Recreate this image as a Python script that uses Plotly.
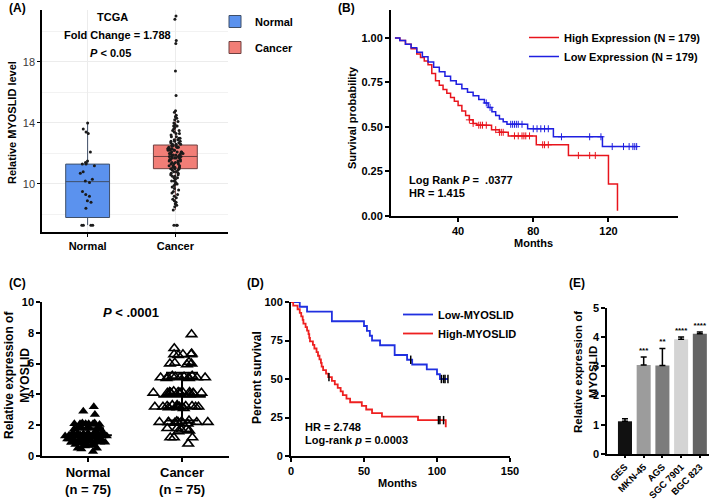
import numpy as np
import plotly.graph_objects as go

W, H = 709, 502
FONT = "Liberation Sans"

# ---------------- Panel A data (TCGA box plot) ----------------
a_groups = ["Normal", "Cancer"]
a_q1 = [7.8, 11.0]
a_median = [10.15, 11.8]
a_q3 = [11.3, 12.55]
a_lower = [7.3, 8.3]
a_upper = [14.0, 14.8]
a_normal_pts = [14.0, 13.6, 13.4, 13.3, 12.1, 11.5, 11.4, 11.3, 11.3, 11.2, 10.8, 10.7,
                10.3, 10.2, 10.1, 9.5, 9.3, 9.2, 8.9, 8.8, 8.4, 7.3, 7.3, 7.3, 7.3]
a_cancer_pts = [21.0, 20.8, 19.4, 19.2, 17.4, 15.8, 14.8, 14.7, 14.5, 14.4, 14.3, 14.2, 14.1,
                14.0, 13.9, 13.8, 13.8, 13.7, 13.6, 13.5, 13.5, 13.4, 13.3, 13.3, 13.2, 13.1,
                13.1, 13.0, 13.0, 12.9, 12.9, 12.8, 12.8, 12.8, 12.7, 12.7, 12.6, 12.6, 12.6,
                12.5, 12.5, 12.5, 12.4, 12.4, 12.4, 12.4, 12.3, 12.3, 12.3, 12.3, 12.2, 12.2,
                12.2, 12.2, 12.1, 12.1, 12.1, 12.1, 12.0, 12.0, 12.0, 12.0, 11.9, 11.9, 11.9,
                11.9, 11.8, 11.8, 11.8, 11.8, 11.7, 11.7, 11.7, 11.7, 11.6, 11.6, 11.6, 11.5,
                11.5, 11.5, 11.4, 11.4, 11.4, 11.3, 11.3, 11.3, 11.2, 11.2, 11.2, 11.1, 11.1,
                11.1, 11.0, 11.0, 11.0, 10.9, 10.9, 10.8, 10.8, 10.7, 10.7, 10.6, 10.6, 10.5,
                10.5, 10.4, 10.4, 10.3, 10.2, 10.2, 10.1, 10.0, 10.0, 9.9, 9.8, 9.7, 9.6, 9.5,
                9.4, 9.3, 9.2, 9.1, 9.0, 8.9, 8.8, 8.7, 8.6, 8.5, 8.3, 7.3, 7.3, 7.3]

# ---------------- Panel B data (TCGA KM) ----------------
b_high_t = [6.4, 9, 12, 15, 18, 20, 22, 24, 26, 28, 30, 32, 34, 36, 38, 40, 42, 44, 46, 48,
            50, 57.8, 62, 66.7, 81.6, 98.7, 120, 124.8]
b_high_s = [1.0, 0.985, 0.965, 0.94, 0.91, 0.89, 0.87, 0.85, 0.80, 0.76, 0.735, 0.71, 0.69,
            0.665, 0.645, 0.62, 0.59, 0.565, 0.54, 0.52, 0.51, 0.485, 0.47, 0.45, 0.40, 0.34,
            0.18, 0.03]
b_low_t = [6.4, 9, 12, 15, 18, 21, 24, 27, 30, 33, 36, 39, 42, 45, 48, 51, 54, 56, 58, 60,
           62, 64, 66, 77, 90.7, 116.8, 135.5]
b_low_s = [1.0, 0.985, 0.965, 0.945, 0.92, 0.895, 0.865, 0.835, 0.81, 0.785, 0.76, 0.74,
           0.715, 0.695, 0.675, 0.655, 0.635, 0.61, 0.585, 0.565, 0.545, 0.53, 0.515, 0.49,
           0.445, 0.39, 0.39]
b_high_cens = [46, 48, 51, 52, 53, 55, 60, 62, 63, 64, 70, 72, 74, 75, 76, 78, 85, 86, 88,
               104, 110, 113]
b_low_cens = [55, 57, 68, 69, 70, 71, 72, 74, 80, 82, 84, 86, 88, 95, 110, 116, 122, 128,
              131, 133, 134, 135]

# ---------------- Panel C data (qPCR scatter) ----------------
c_groups = ["Normal", "Cancer"]
c_normal = [3.2, 2.9, 2.7, 2.15, 2.1, 2.1, 2.05, 2.1, 2.15, 2.1, 2.05, 2.1,
            1.8, 1.8, 1.75, 1.8, 1.85, 1.8, 1.75, 1.8,
            1.5, 1.5, 1.55, 1.5, 1.45, 1.5, 1.5, 1.55, 1.45, 1.5,
            1.3, 1.3, 1.35, 1.3, 1.25, 1.3, 1.3, 1.35, 1.25, 1.3, 1.3, 1.3,
            1.1, 1.1, 1.15, 1.1, 1.05, 1.1, 1.1, 1.15, 1.05, 1.1, 1.1, 1.1,
            0.9, 0.9, 0.95, 0.9, 0.85, 0.9, 0.9, 0.95, 0.85, 0.9,
            0.7, 0.7, 0.75, 0.7, 0.65, 0.7, 0.5, 0.5, 0.45, 0.3, 1.2]
c_cancer = [7.9, 7.0, 6.6, 6.6, 6.55, 6.6, 6.65, 6.0, 6.1, 5.95, 6.05, 6.0,
            5.1, 5.15, 5.1, 5.05, 5.1, 5.2, 5.1, 5.15, 5.05, 5.1, 5.2, 5.1,
            4.1, 4.15, 4.1, 4.05, 4.1, 4.2, 4.1, 4.15, 4.0, 4.1, 4.05, 4.2, 4.1, 4.15, 4.1,
            3.2, 3.25, 3.2, 3.15, 3.2, 3.3, 3.2, 3.25, 3.1, 3.2, 3.15, 3.3, 3.2, 3.25, 3.2,
            2.2, 2.25, 2.2, 2.15, 2.2, 2.3, 2.2, 2.25, 2.1, 2.2, 2.2,
            1.8, 1.75, 1.7, 1.6, 1.65, 1.8, 1.2, 1.2, 1.2, 0.8]
c_means = [1.35, 3.85]
c_sds = [0.45, 1.55]

# ---------------- Panel D data (cohort KM) ----------------
d_low_t = [0, 6, 11, 28, 50, 52, 54, 55.5, 61, 71, 79.5, 83, 93, 100, 102, 107.5]
d_low_s = [100, 96.9, 93.8, 87.5, 84.4, 81.3, 78.1, 75.0, 71.9, 65.6, 62.5, 59.4, 56.3,
           53.1, 50.0, 50.0]
d_high_t = [0, 1.5, 4.5, 6, 7, 8, 8.5, 10, 11, 12, 12.5, 13, 15, 16, 17.5, 18.5, 19.5, 20.5,
            21, 22, 24, 25.5, 28, 30, 32, 34, 35.5, 38, 40.5, 48.5, 51.5, 55.5, 62.3, 87, 106]
d_high_s = [100, 97.7, 95.3, 93.0, 90.7, 88.4, 86.0, 83.7, 81.4, 79.1, 76.7, 74.4, 72.1,
            69.8, 67.4, 65.1, 62.8, 60.5, 58.1, 55.8, 53.5, 51.2, 48.8, 46.5, 44.2, 41.9,
            39.5, 37.2, 34.9, 32.6, 30.2, 27.9, 25.6, 23.3, 18.6]
d_low_cens = [82, 103, 104.5, 105.5, 107.5]
d_high_cens = [26, 101, 102, 104.5]

# ---------------- Panel E data (cell lines) ----------------
e_cells = ["GES", "MKN-45", "AGS", "SGC 7901", "BGC 823"]
e_vals = [1.12, 3.05, 3.03, 3.93, 4.12]
e_err = [0.09, 0.27, 0.58, 0.08, 0.06]
e_stars = ["", "***", "**", "****", "****"]
e_colors = ["#111111", "#9c9c9c", "#7c7c7c", "#d4d4d4", "#646464"]


def dx(a, b):
    return [a / W, b / W]


def dy(top, bot):
    return [1 - bot / H, 1 - top / H]


def px(x):
    return x / W


def py(y):
    return 1 - y / H


def step_at(times, survs, pts):
    idx = np.searchsorted(np.array(times), np.array(pts), side="right") - 1
    return list(np.array(survs)[idx])


def bold(size=11, color="black"):
    return dict(family=FONT, size=size, color=color, weight="bold")


fig = go.Figure()

# ---- A ----
a_fill = ["#5b92ee", "#f27e77"]
a_line = ["#3f4f68", "#6e4040"]
for i, g in enumerate(a_groups):
    fig.add_trace(go.Box(
        x=[g], q1=[a_q1[i]], median=[a_median[i]], q3=[a_q3[i]],
        lowerfence=[a_lower[i]], upperfence=[a_upper[i]],
        name=g, fillcolor=a_fill[i], line=dict(color=a_line[i], width=1),
        whiskerwidth=0, width=0.5, boxpoints=False, xaxis="x", yaxis="y",
        legend="legend", legendgroup=g, hoverinfo="skip"))
for g, pts in zip(a_groups, [a_normal_pts, a_cancer_pts]):
    fig.add_trace(go.Box(
        x=[g] * len(pts), y=pts, boxpoints="all", jitter=0.35, pointpos=0, width=0.5,
        fillcolor="rgba(0,0,0,0)", line=dict(width=0, color="rgba(0,0,0,0)"),
        marker=dict(size=3, color="#1a1a1a"), showlegend=False, xaxis="x", yaxis="y"))

# ---- B ----
fig.add_trace(go.Scatter(x=b_high_t, y=b_high_s, mode="lines", line=dict(color="#e8141c", width=1.5, shape="hv"),
                         name="High Expression (N = 179)", xaxis="x2", yaxis="y2", legend="legend2"))
fig.add_trace(go.Scatter(x=b_low_t, y=b_low_s, mode="lines", line=dict(color="#1f1fe0", width=1.5, shape="hv"),
                         name="Low Expression (N = 179)", xaxis="x2", yaxis="y2", legend="legend2"))
fig.add_trace(go.Scatter(x=b_high_cens, y=step_at(b_high_t, b_high_s, b_high_cens), mode="markers",
                         marker=dict(symbol="cross-thin", size=5, line=dict(color="#e8141c", width=1)),
                         showlegend=False, xaxis="x2", yaxis="y2"))
fig.add_trace(go.Scatter(x=b_low_cens, y=step_at(b_low_t, b_low_s, b_low_cens), mode="markers",
                         marker=dict(symbol="cross-thin", size=5, line=dict(color="#1f1fe0", width=1)),
                         showlegend=False, xaxis="x2", yaxis="y2"))

# ---- C ----
fig.add_trace(go.Box(x=["Normal"] * len(c_normal), y=c_normal, boxpoints="all", jitter=1, pointpos=0,
                     width=0.58, fillcolor="rgba(0,0,0,0)", line=dict(width=0, color="rgba(0,0,0,0)"),
                     marker=dict(symbol="triangle-up", size=9, color="black"),
                     showlegend=False, xaxis="x3", yaxis="y3"))
fig.add_trace(go.Box(x=["Cancer"] * len(c_cancer), y=c_cancer, boxpoints="all", jitter=1, pointpos=0,
                     width=0.62, fillcolor="rgba(0,0,0,0)", line=dict(width=0, color="rgba(0,0,0,0)"),
                     marker=dict(symbol="triangle-up-open", size=9, color="black", line=dict(width=1.6, color="black")),
                     showlegend=False, xaxis="x3", yaxis="y3"))
fig.add_trace(go.Scatter(x=c_groups, y=c_means, mode="markers",
                         marker=dict(symbol="line-ew", size=34, line=dict(width=2, color="black")),
                         error_y=dict(type="data", array=c_sds, width=16, thickness=2, color="black"),
                         showlegend=False, xaxis="x3", yaxis="y3"))

# ---- D ----
fig.add_trace(go.Scatter(x=d_low_t, y=d_low_s, mode="lines", line=dict(color="#2030e0", width=1.8, shape="hv"),
                         name="Low-MYOSLID", xaxis="x4", yaxis="y4", legend="legend3"))
fig.add_trace(go.Scatter(x=d_high_t, y=d_high_s, mode="lines", line=dict(color="#ee2020", width=1.8, shape="hv"),
                         name="High-MYOSLID", xaxis="x4", yaxis="y4", legend="legend3"))
fig.add_trace(go.Scatter(x=d_low_cens, y=step_at(d_low_t, d_low_s, d_low_cens), mode="markers",
                         marker=dict(symbol="line-ns", size=6, line=dict(color="black", width=1.5)),
                         showlegend=False, xaxis="x4", yaxis="y4"))
fig.add_trace(go.Scatter(x=d_high_cens, y=step_at(d_high_t, d_high_s, d_high_cens), mode="markers",
                         marker=dict(symbol="line-ns", size=6, line=dict(color="black", width=1.5)),
                         showlegend=False, xaxis="x4", yaxis="y4"))

# ---- E ----
fig.add_trace(go.Bar(x=e_cells, y=e_vals, marker=dict(color=e_colors, line=dict(width=0)), width=0.75,
                     error_y=dict(type="data", symmetric=False, array=e_err, arrayminus=[0] * len(e_err),
                                  width=3, thickness=1.5, color="black"),
                     showlegend=False, xaxis="x5", yaxis="y5"))
fig.add_trace(go.Scatter(x=e_cells, y=[v + e + 0.08 for v, e in zip(e_vals, e_err)], mode="text",
                         text=e_stars, textposition="top center", textfont=bold(8),
                         showlegend=False, xaxis="x5", yaxis="y5"))

axis_common = dict(showline=True, linecolor="black", ticks="outside", tickcolor="black",
                   zeroline=False, showgrid=False, tickfont=bold(11), automargin=False)

fig.update_layout(
    width=W, height=H, margin=dict(l=0, r=0, t=0, b=0, pad=0, autoexpand=False),
    paper_bgcolor="white", plot_bgcolor="white", boxmode="overlay",
    font=dict(family=FONT, color="black"),
    # A
    xaxis=dict(axis_common, domain=dx(42, 228), type="category", range=[-0.52, 1.6],
               categoryorder="array", categoryarray=a_groups, linewidth=1.5, ticklen=3,
               showgrid=True, gridcolor="#ececec", gridwidth=1),
    yaxis=dict(axis_common, domain=dy(10, 232), range=[6.85, 21.4], tick0=10, dtick=4,
               linewidth=1.5, ticklen=3, showgrid=True, gridcolor="#ececec",
               minor=dict(dtick=2, tick0=10, showgrid=True, gridcolor="#f2f2f2", ticks=""),
               tickfont=dict(family=FONT, size=11, color="#3a3a3a"), anchor="x"),
    # B
    xaxis2=dict(axis_common, domain=dx(391, 678), range=[4.3, 157], tickvals=[40, 80, 120],
                linewidth=2, ticklen=4, tickwidth=2, anchor="y2"),
    yaxis2=dict(axis_common, domain=dy(10, 216), range=[0, 1.157], tickvals=[0, 0.25, 0.5, 0.75, 1.0],
                tickformat=".2f", linewidth=2, ticklen=4, tickwidth=2, anchor="x2"),
    # C
    xaxis3=dict(axis_common, domain=dx(42, 229), type="category", range=[-0.49, 1.5],
                categoryorder="array", categoryarray=c_groups,
                tickvals=c_groups, ticktext=["Normal<br>(n = 75)", "Cancer<br>(n = 75)"],
                tickfont=bold(13), linewidth=1.5, ticklen=4, tickwidth=1.5, anchor="y3"),
    yaxis3=dict(axis_common, domain=dy(302, 456), range=[0, 10], dtick=2, linewidth=1.5,
                ticklen=4, tickwidth=1.5, anchor="x3"),
    # D
    xaxis4=dict(axis_common, domain=dx(291, 510), range=[0, 150], tickvals=[0, 50, 100, 150],
                linewidth=2, ticklen=4, tickwidth=2, anchor="y4"),
    yaxis4=dict(axis_common, domain=dy(302, 456), range=[0, 100], tickvals=[0, 25, 50, 75, 100],
                linewidth=2, ticklen=4, tickwidth=2, anchor="x4"),
    # E
    xaxis5=dict(axis_common, domain=dx(607, 709), type="category", range=[-0.96, 4.49],
                tickangle=-45, linewidth=1.5, ticklen=2, tickwidth=1.5, anchor="y5",
                tickfont=bold(9.5)),
    yaxis5=dict(axis_common, domain=dy(308, 454), range=[0, 5], dtick=1, linewidth=1.5,
                ticklen=4, tickwidth=1.5, anchor="x5"),
    legend=dict(x=px(215), y=py(7), xanchor="left", yanchor="top", font=bold(11),
                bgcolor="rgba(0,0,0,0)", tracegroupgap=7, traceorder="grouped"),
    legend2=dict(x=px(524), y=py(23), xanchor="left", yanchor="top", font=bold(11),
                 bgcolor="rgba(0,0,0,0)"),
    legend3=dict(x=px(398), y=py(300), xanchor="left", yanchor="top", font=bold(11),
                 bgcolor="rgba(0,0,0,0)"),
)

ann = []


def add_text(text, x, y, size=11, xanchor="center", angle=0):
    ann.append(dict(text=text, x=px(x), y=py(y), xref="paper", yref="paper", showarrow=False,
                    xanchor=xanchor, yanchor="middle", textangle=angle, font=bold(size)))


# panel labels
add_text("(A)", 17, 8, 12)
add_text("(B)", 346, 8, 12)
add_text("(C)", 17, 283, 12)
add_text("(D)", 255, 283, 12)
add_text("(E)", 577, 283, 12)
# A texts
add_text("TCGA", 112, 17, 11)
add_text("Fold Change = 1.788", 117, 35, 11)
add_text("<i>P</i> < 0.05", 110, 53, 11)
add_text("Relative MYOSLID level", 12, 123, 11, angle=-90)
# B texts
add_text("Log Rank <i>P</i> =  .0377", 407, 180, 11, xanchor="left")
add_text("HR = 1.415", 407, 193, 11, xanchor="left")
add_text("Survival probability", 352, 118, 11, angle=-90)
add_text("Months", 533, 243, 11)
# C texts
add_text("<i>P</i> < .0001", 131, 312, 13)
add_text("Relative expression of<br>MYOSLID", 17, 375, 12, angle=-90)
# D texts
add_text("HR = 2.748", 303, 427, 11, xanchor="left")
add_text("Log-rank <i>p</i> = 0.0003", 303, 440, 11, xanchor="left")
add_text("Percent survival", 257, 378, 12, angle=-90)
add_text("Months", 397, 483, 11)
# E texts
add_text("Relative expression of<br>MYOSLID", 585, 372, 11.5, angle=-90)

fig.update_layout(annotations=ann)
fig.write_html("out.html", config={"displayModeBar": False},
               post_script="document.body.style.margin='0';")
